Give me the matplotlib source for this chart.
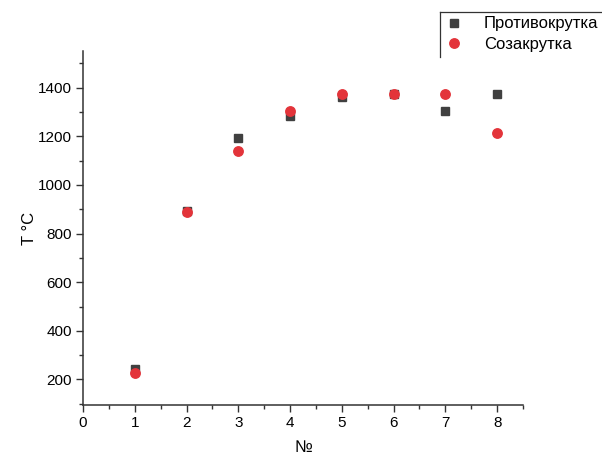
import matplotlib
matplotlib.use("Agg")
import matplotlib.pyplot as plt
from matplotlib.ticker import MultipleLocator
from matplotlib.lines import Line2D

plt.rcParams['font.family'] = ['Liberation Sans', 'DejaVu Sans']

x = [1, 2, 3, 4, 5, 6, 7, 8]
protivo = [245, 894, 1191, 1285, 1362, 1372, 1306, 1372]
soza = [228, 889, 1140, 1303, 1372, 1372, 1372, 1212]
labels = ["Противокрутка", "Созакрутка"]

fig = plt.figure(figsize=(6.02, 4.57), dpi=100)
ax = fig.add_axes([0.1379, 0.1138, 0.7309, 0.7742])

ax.plot(x, protivo, linestyle='none', marker='s', ms=6, color='#404040', label=labels[0])
ax.plot(x, soza, linestyle='none', marker='o', ms=6.8, color='#e3343a', label=labels[1])

ax.set_xlim(0, 8.5)
ax.set_ylim(95, 1550)
ax.xaxis.set_major_locator(MultipleLocator(1))
ax.xaxis.set_minor_locator(MultipleLocator(0.5))
ax.yaxis.set_minor_locator(MultipleLocator(100))
ax.set_yticks([200, 400, 600, 800, 1000, 1200, 1400])

for s in ['top', 'right']:
    ax.spines[s].set_visible(False)
for s in ['left', 'bottom']:
    ax.spines[s].set_linewidth(1.1)
    ax.spines[s].set_color('#333333')

ax.tick_params(which='major', direction='out', length=5, width=1.0, labelsize=11,
               colors='#333333', labelcolor='black', pad=3)
ax.tick_params(which='minor', direction='out', length=3, width=1.0, colors='#333333')

ax.set_xlabel("№", fontsize=12, labelpad=7)
ax.set_ylabel("T °C", fontsize=12, labelpad=1)

leg = fig.legend(loc='upper left', bbox_to_anchor=(0.732, 0.975), fontsize=12,
                 frameon=False,
                 handlelength=1.0, handletextpad=1.3, borderpad=0.3, labelspacing=0.35,
                 borderaxespad=0)

# partial legend frame (top and left edges, as in the reference)
x0, y0 = 440 / 602, 1 - 12 / 457
y1 = 1 - 57 / 457
fig.add_artist(Line2D([x0, x0], [y0, y1], transform=fig.transFigure, color='#333333', lw=0.9))
fig.add_artist(Line2D([x0, 1.0], [y0, y0], transform=fig.transFigure, color='#333333', lw=0.9))

fig.savefig("out.png", dpi=100)
